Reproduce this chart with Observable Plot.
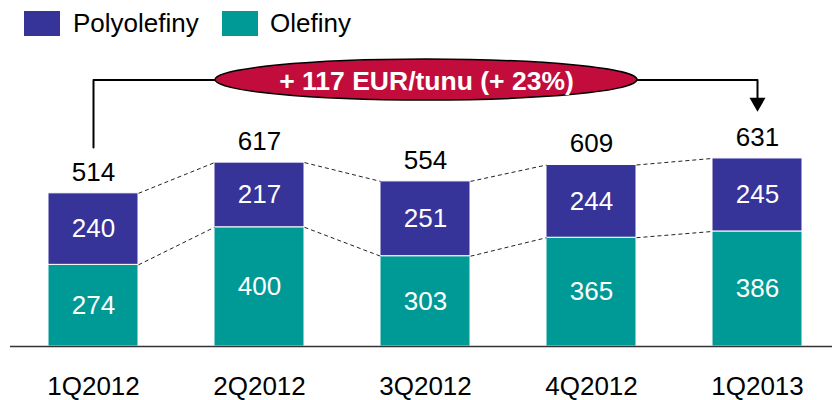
<!DOCTYPE html>
<html>
<head>
<meta charset="utf-8">
<script src="https://cdn.jsdelivr.net/npm/d3@7"></script>
<script src="https://cdn.jsdelivr.net/npm/@observablehq/plot@0.6"></script>
<style>
  html, body { margin: 0; padding: 0; background: #fff; }
  #wrap { position: relative; width: 832px; height: 400px; font-family: "Liberation Sans", Arial, sans-serif; }
  .sw { position: absolute; top: 11px; width: 36px; height: 25px; }
  .lt { position: absolute; top: 6px; font-size: 26px; line-height: 34px; color: #000; }
</style>
</head>
<body>
<div id="wrap">
  <div id="chart"></div>
  <div id="legend"></div>
</div>
<script>
const quarters = ["1Q2012", "2Q2012", "3Q2012", "4Q2012", "1Q2013"];
const olefiny = [274, 400, 303, 365, 386];
const polyolefiny = [240, 217, 251, 244, 245];
const totals = [514, 617, 554, 609, 631];
const seriesNames = ["Polyolefiny", "Olefiny"];
const seriesColors = ["#363399", "#009a96"];

// derived table
const rows = [];
quarters.forEach((q, i) => {
  rows.push({i, series: "Olefiny", y1: 0, y2: olefiny[i], v: olefiny[i]});
  rows.push({i, series: "Polyolefiny", y1: olefiny[i], y2: olefiny[i] + polyolefiny[i], v: polyolefiny[i]});
});
const hw = 45 / 166; // half bar width in band units
const links = [];
for (let i = 0; i < quarters.length - 1; i++) {
  links.push({x1: i + hw, x2: i + 1 - hw, y1: totals[i], y2: totals[i + 1]});
  links.push({x1: i + hw, x2: i + 1 - hw, y1: olefiny[i], y2: olefiny[i + 1]});
}
const n = quarters.length;
const diff = totals[n - 1] - totals[0];
const pct = Math.round(diff / totals[0] * 100);
const calloutText = `+ ${diff} EUR/tunu (+ ${pct}%)`;
const bracketTop = 894, bracketLeftBottom = 668, arrowBase = 825, arrowCenter = 819;
const bracket = [
  {x: 0, y: bracketLeftBottom}, {x: 0, y: bracketTop},
  {x: n - 1, y: bracketTop}, {x: n - 1, y: arrowBase}
];
const calloutX = 2.006;

function ellipseMark(index, scales) {
  const cx = scales.x(calloutX), cy = scales.y(bracketTop);
  const e = document.createElementNS("http://www.w3.org/2000/svg", "ellipse");
  e.setAttribute("cx", cx); e.setAttribute("cy", cy);
  e.setAttribute("rx", 211); e.setAttribute("ry", 20.5);
  e.setAttribute("fill", "#c20c3c"); e.setAttribute("stroke", "#000"); e.setAttribute("stroke-width", 1.5);
  const g = document.createElementNS("http://www.w3.org/2000/svg", "g");
  g.appendChild(e);
  return g;
}

const plot = Plot.plot({
  width: 832,
  height: 400,
  marginLeft: 10,
  marginRight: 0,
  marginTop: 0,
  marginBottom: 54,
  style: {fontFamily: "'Liberation Sans', Arial, sans-serif", background: "#fff", overflow: "visible"},
  x: {type: "linear", domain: [-0.5, 4.5], range: [10, 840], axis: null},
  y: {domain: [0, 1161], axis: null},
  marks: [
    Plot.rect(rows, {x1: d => d.i - hw, x2: d => d.i + hw, y1: "y1", y2: "y2",
      fill: d => seriesColors[seriesNames.indexOf(d.series)], stroke: "white", strokeWidth: 1}),
    Plot.link(links, {x1: "x1", x2: "x2", y1: "y1", y2: "y2", stroke: "#222", strokeWidth: 1, strokeDasharray: "4,3"}),
    Plot.text(rows, {x: "i", y: d => (d.y1 + d.y2) / 2, text: d => String(d.v), fill: "white", fontSize: 26}),
    Plot.text(totals, {x: (d, i) => i, y: d => d, text: d => String(d), dy: -21, fill: "#000", fontSize: 26}),
    Plot.ruleY([0], {stroke: "#333", strokeWidth: 1.5}),
    Plot.axisX({ticks: d3.range(n), tickFormat: i => quarters[i], tickSize: 0, tickPadding: 30, fontSize: 26, fill: "#000"}),
    Plot.line(bracket, {x: "x", y: "y", stroke: "#000", strokeWidth: 2}),
    Plot.dot([{x: n - 1, y: arrowCenter}], {x: "x", y: "y", symbol: "triangle", r: 5.94, rotate: 180, fill: "#000", stroke: "none"}),
    ellipseMark,
    Plot.text([calloutText], {x: calloutX, y: bracketTop, text: d => d, fill: "white", fontSize: 26.5, fontWeight: "bold", dy: 1})
  ]
});
document.getElementById("chart").appendChild(plot);

// legend
const legend = document.getElementById("legend");
const lpos = [[24, 73], [222, 270]];
seriesNames.forEach((s, k) => {
  const sw = document.createElement("div");
  sw.className = "sw"; sw.style.left = lpos[k][0] + "px"; sw.style.background = seriesColors[k];
  const t = document.createElement("div");
  t.className = "lt"; t.style.left = lpos[k][1] + "px"; t.textContent = s;
  legend.appendChild(sw); legend.appendChild(t);
});
</script>
</body>
</html>
